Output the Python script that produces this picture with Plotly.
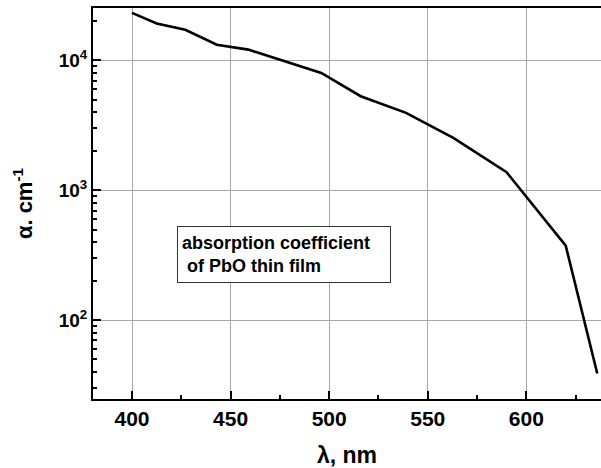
import plotly.graph_objects as go

wavelength_nm = [400, 412.5, 427, 443, 459, 496, 516, 539, 563, 590, 620, 636]
alpha_cm = [23200, 19200, 17200, 13200, 12100, 8000, 5300, 3950, 2530, 1380, 376, 39]

x_tick_vals = [400, 450, 500, 550, 600]
x_tick_text = ["<b>400</b>", "<b>450</b>", "<b>500</b>", "<b>550</b>", "<b>600</b>"]
y_tick_vals = [100, 1000, 10000]
y_tick_text = ["<b>10<sup>2</sup></b>", "<b>10<sup>3</sup></b>", "<b>10<sup>4</sup></b>"]

x_title = "λ, nm"
y_title = "α. cm<sup>-1</sup>"
note_text = "absorption coefficient<br>\u00a0of PbO thin film"

FONT = "Liberation Sans, Arial, sans-serif"

fig = go.Figure()
fig.add_trace(go.Scatter(
    x=wavelength_nm, y=alpha_cm, mode="lines",
    line=dict(color="black", width=2.6), showlegend=False,
))

fig.update_layout(
    width=601, height=468,
    margin=dict(l=93, r=0, t=8, b=69),
    paper_bgcolor="white", plot_bgcolor="white",
    font=dict(family=FONT, color="black"),
    xaxis=dict(
        range=[380.2, 637.9], tickvals=x_tick_vals, ticktext=x_tick_text,
        ticks="inside", ticklen=8, tickwidth=2, tickcolor="black",
        showline=True, linecolor="black", linewidth=2, mirror=True,
        showgrid=True, gridcolor="#a8a8a8", gridwidth=1,
        zeroline=False, automargin=False,
        tickfont=dict(size=21, family=FONT, weight="bold"),
        title=dict(text="<b>" + x_title + "</b>", font=dict(size=23, family=FONT), standoff=19),
        minor=dict(dtick=25, tick0=400, ticks="inside", ticklen=4, tickwidth=1.5, tickcolor="black", showgrid=False),
    ),
    yaxis=dict(
        type="log", range=[1.395, 4.403],
        tickvals=y_tick_vals, ticktext=y_tick_text,
        ticks="inside", ticklen=8, tickwidth=2, tickcolor="black",
        showline=True, linecolor="black", linewidth=2,
        showgrid=True, gridcolor="#a8a8a8", gridwidth=1,
        zeroline=False, automargin=False,
        tickfont=dict(size=19, family=FONT, weight="bold"),
        title=dict(text="<b>" + y_title + "</b>", font=dict(size=22, family=FONT), standoff=20),
        minor=dict(dtick="D1", ticks="inside", ticklen=4, tickwidth=1.5, tickcolor="black", showgrid=False),
    ),
    annotations=[dict(
        xref="paper", yref="paper", x=0.376, y=0.370,
        xanchor="center", yanchor="middle",
        text="<b>" + note_text + "</b>", align="left",
        showarrow=False, width=204, height=47,
        font=dict(size=18, family=FONT, color="black"),
        bordercolor="#333333", borderwidth=1, borderpad=4, bgcolor="white",
    )],
)

fig.write_html(
    "out.html",
    config={"displayModeBar": False},
    post_script="document.body.style.margin='0';document.body.style.padding='0';",
)
